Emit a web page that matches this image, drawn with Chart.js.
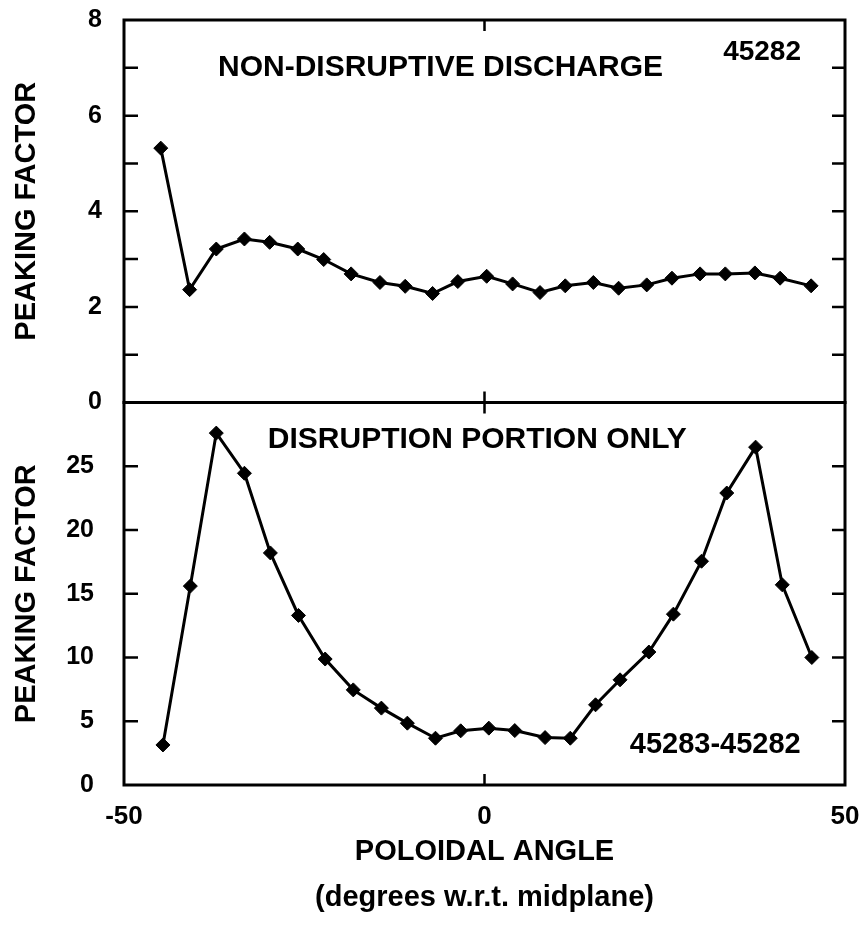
<!DOCTYPE html>
<html>
<head>
<meta charset="utf-8">
<script src="https://cdn.jsdelivr.net/npm/chart.js@4/dist/chart.umd.min.js"></script>
<style>
  html, body { margin: 0; padding: 0; background: #fff; }
  canvas { display: block; }
</style>
</head>
<body>
<canvas id="peaking" width="860" height="932"></canvas>
<script>
// top panel: non-disruptive discharge 45282
var angleTop = [-44.9, -40.9, -37.2, -33.3, -29.8, -25.9, -22.3, -18.5, -14.5, -11.0, -7.2, -3.7, 0.3,
    3.9, 7.7, 11.2, 15.1, 18.6, 22.5, 26.0, 29.9, 33.4, 37.5, 41.0, 45.3];
var peakTop = [5.32, 2.36, 3.21, 3.42, 3.35, 3.21, 2.99, 2.69, 2.51, 2.43, 2.28, 2.53, 2.64,
    2.48, 2.30, 2.44, 2.51, 2.39, 2.46, 2.60, 2.69, 2.69, 2.71, 2.60, 2.44];

// bottom panel: disruption portion only 45283-45282
var angleBot = [-44.6, -40.8, -37.2, -33.3, -29.7, -25.8, -22.1, -18.2, -14.3, -10.7, -6.8, -3.3, 0.6,
    4.2, 8.4, 11.9, 15.4, 18.8, 22.8, 26.2, 30.1, 33.6, 37.6, 41.3, 45.4];
var peakBot = [3.14, 15.6, 27.6, 24.45, 18.2, 13.3, 9.88, 7.46, 6.03, 4.85, 3.67, 4.25, 4.46,
    4.27, 3.72, 3.67, 6.29, 8.25, 10.43, 13.4, 17.55, 22.9, 26.5, 15.7, 10.0];

var xTicks = [-50, 0, 50];
var topTicks = [0, 2, 4, 6, 8];
var botTicks = [0, 5, 10, 15, 20, 25];

var notes = [
    {text: "NON-DISRUPTIVE DISCHARGE", x: -6.1, y: 7.0, axis: "yTop", size: 30},
    {text: "45282", x: 38.5, y: 7.33, axis: "yTop", size: 28},
    {text: "DISRUPTION PORTION ONLY", x: -1.0, y: 27.1, axis: "yBot", size: 30},
    {text: "45283-45282", x: 32.0, y: 3.1, axis: "yBot", size: 29}
];

var FONT = "'Liberation Sans', Arial, Helvetica, sans-serif";

function pairs(xs, ys) {
    var out = [];
    for (var i = 0; i < xs.length; i++) {
        out.push({x: xs[i], y: ys[i]});
    }
    return out;
}

// no extra room for labels that stick out past the plot edges
function noPad(s) {
    s.paddingTop = 0;
    s.paddingBottom = 0;
    s.paddingLeft = 0;
    s.paddingRight = 0;
}

// box round each panel, ticks pointing inward, and the text notes
var frame = {
    id: "frame",
    afterDraw: function(chart) {
        var c = chart.ctx;
        var x = chart.scales.x;
        var panels = [chart.scales.yTop, chart.scales.yBot];
        var left = chart.chartArea.left, right = chart.chartArea.right;
        var x0 = x.getPixelForValue(0);
        c.save();
        c.strokeStyle = "#000";
        panels.forEach(function(s, k) {
            c.lineWidth = 3;
            c.strokeRect(left, s.top, right - left, s.bottom - s.top);
            var step = k == 0 ? 1 : 5;
            c.lineWidth = 2.5;
            c.beginPath();
            for (var v = s.min + step; v < s.max; v += step) {
                var py = s.getPixelForValue(v);
                c.moveTo(left, py); c.lineTo(left + 14, py);
                c.moveTo(right, py); c.lineTo(right - 13, py);
            }
            c.moveTo(x0, s.top); c.lineTo(x0, s.top + 11);
            c.moveTo(x0, s.bottom); c.lineTo(x0, s.bottom - 11);
            c.stroke();
        });
        c.fillStyle = "#000";
        c.textAlign = "center";
        c.textBaseline = "middle";
        notes.forEach(function(n) {
            c.font = "bold " + n.size + "px " + FONT;
            c.fillText(n.text, x.getPixelForValue(n.x), chart.scales[n.axis].getPixelForValue(n.y));
        });
        c.restore();
    }
};

var ctx = document.getElementById("peaking");

var config = {
    type: "line",
    data: {
        datasets: [
            {
                label: "45282",
                data: pairs(angleTop, peakTop),
                yAxisID: "yTop"
            },
            {
                label: "45283-45282",
                data: pairs(angleBot, peakBot),
                yAxisID: "yBot"
            }
        ]
    },
    options: {
        responsive: false,
        animation: false,
        devicePixelRatio: 1,
        layout: { padding: { top: 20, right: 15, left: 0, bottom: 0 } },
        elements: {
            line: { borderColor: "#000", borderWidth: 3, tension: 0 },
            point: { pointStyle: "rectRot", radius: 7, backgroundColor: "#000", borderColor: "#000", borderWidth: 1 }
        },
        plugins: {
            legend: { display: false },
            tooltip: { enabled: false }
        },
        scales: {
            x: {
                type: "linear",
                min: -50,
                max: 50,
                afterBuildTicks: function(s) { s.ticks = xTicks.map(function(v) { return {value: v}; }); },
                afterFit: function(s) { s.height = 147; noPad(s); },
                grid: { display: false, drawTicks: false },
                border: { display: false },
                ticks: { color: "#000", padding: 16, font: { family: FONT, size: 26, weight: "bold" } },
                title: {
                    display: true,
                    text: ["POLOIDAL ANGLE", "(degrees w.r.t. midplane)"],
                    color: "#000",
                    padding: { top: 0, bottom: 11 },
                    font: { family: FONT, size: 29, weight: "bold", lineHeight: 1.586 }
                }
            },
            // in a stack the first scale listed goes at the bottom
            yBot: {
                type: "linear",
                position: "left",
                stack: "panels",
                stackWeight: 1,
                min: 0,
                max: 30,
                afterBuildTicks: function(s) { s.ticks = botTicks.map(function(v) { return {value: v}; }); },
                afterFit: function(s) { s.width = 124; noPad(s); },
                grid: { display: false, drawTicks: false },
                border: { display: false },
                ticks: { color: "#000", padding: 30, font: { family: FONT, size: 25, weight: "bold" } },
                title: {
                    display: true,
                    text: "PEAKING FACTOR",
                    color: "#000",
                    padding: { top: 10, bottom: 0 },
                    font: { family: FONT, size: 29, weight: "bold" }
                }
            },
            yTop: {
                type: "linear",
                position: "left",
                stack: "panels",
                stackWeight: 1,
                min: 0,
                max: 8,
                afterBuildTicks: function(s) { s.ticks = topTicks.map(function(v) { return {value: v}; }); },
                afterFit: function(s) { s.width = 124; noPad(s); },
                grid: { display: false, drawTicks: false },
                border: { display: false },
                ticks: { color: "#000", padding: 22, font: { family: FONT, size: 25, weight: "bold" } },
                title: {
                    display: true,
                    text: "PEAKING FACTOR",
                    color: "#000",
                    padding: { top: 10, bottom: 0 },
                    font: { family: FONT, size: 29, weight: "bold" }
                }
            }
        }
    },
    plugins: [frame]
};

var chart = new Chart(ctx, config);
</script>
</body>
</html>
